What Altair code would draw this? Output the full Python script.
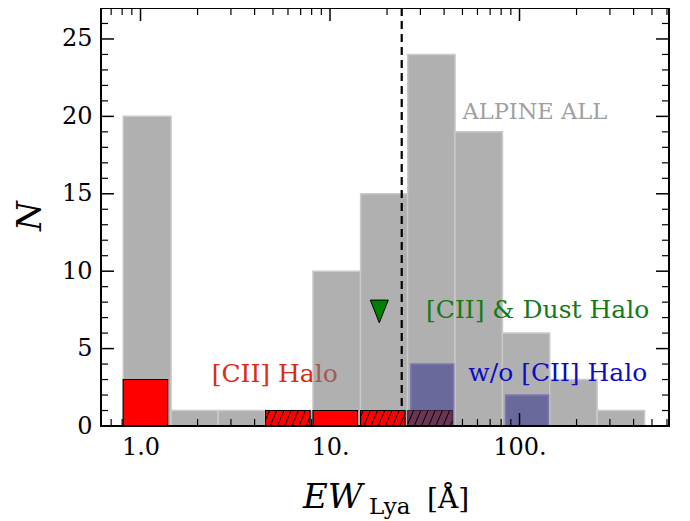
import altair as alt
import pandas as pd
import numpy as np

# ---------------- data ----------------
bin_edges = [0.81, 1.45, 2.57, 4.57, 8.13, 14.5, 25.7, 45.7, 81.3, 144.5, 257.0, 457.0]
all_counts = [20, 1, 1, 1, 10, 15, 24, 19, 6, 3, 1]          # ALPINE ALL
cii_solid_bins = [0, 4]
cii_solid_counts = [3, 1]                                    # [CII] Halo (solid)
cii_hatch_bins = [3, 5]
cii_hatch_counts = [1, 1]                                    # [CII] Halo (hatched)
dust_hatch_bins = [6]
dust_hatch_counts = [1]                                      # hatched, on blue
no_halo_bins = [6, 8]
no_halo_counts = [4, 2]                                      # w/o [CII] Halo
ew_cut = [23.9]
dust_limit_ew = [18.2]
dust_limit_n = [7.4]

x_major = [1, 10, 100]
x_minor = [0.7, 0.8, 0.9, 2, 3, 4, 5, 6, 7, 8, 9, 20, 30, 40, 50, 60, 70, 80, 90,
           200, 300, 400, 500, 600]
y_major = [0, 5, 10, 15, 20, 25]
y_minor = [1, 2, 3, 4, 6, 7, 8, 9, 11, 12, 13, 14, 16, 17, 18, 19, 21, 22, 23, 24, 26, 27]

annot_text = ["ALPINE ALL", "[CII] & Dust Halo", "w/o [CII] Halo"]
annot_x = [50.0, 32.1, 53.7]
annot_y = [19.85, 6.95, 2.89]
annot_color = ["#a0a0a0", "#137a13", "#0b0bc8"]
annot_size = [22.5, 25, 25]

W, H = 568, 418
FONT = "DejaVu Serif"
xs = alt.Scale(type="log", domain=[0.6187, 615], nice=False)
ys = alt.Scale(domain=[0, 27], nice=False, zero=True)

# ---------------- derived tables ----------------
grey = pd.DataFrame({"lo": bin_edges[:-1], "hi": bin_edges[1:], "n": all_counts, "z": 0})

def sub_bars(bins, counts, off_lo, off_hi):
    lo = [bin_edges[b] * 10 ** off_lo for b in bins]
    hi = [bin_edges[b] * 10 ** off_hi for b in bins]
    return pd.DataFrame({"lo": lo, "hi": hi, "n": counts, "z": 0})

red_solid = sub_bars(cii_solid_bins, cii_solid_counts, 0.0, 0.235)
red_hatch = sub_bars(cii_hatch_bins, cii_hatch_counts, 0.0, 0.235)
dark_hatch = sub_bars(dust_hatch_bins, dust_hatch_counts, 0.0, 0.235)
blue = sub_bars(no_halo_bins, no_halo_counts, 0.016, 0.243)

# hatch lines "/" clipped to each hatched bar
s, d = 0.038, 0.035
rows = []
for df in (red_hatch, dark_hatch):
    for _, r in df.iterrows():
        L, R, h = np.log10(r.lo), np.log10(r.hi), r.n
        k0 = int(np.floor((L - d) / s))
        k1 = int(np.ceil(R / s))
        for k in range(k0, k1 + 1):
            t = k * s
            if t + d <= L or t >= R:
                continue
            xa = max(t, L)
            xb = min(t + d, R)
            rows.append({"x": 10 ** xa, "x2": 10 ** xb,
                         "y": (xa - t) / d * h, "y2": (xb - t) / d * h})
hatch = pd.DataFrame(rows)

X = lambda f: alt.X(f"{f}:Q", scale=xs, axis=None)
Y = lambda f: alt.Y(f"{f}:Q", scale=ys, axis=None)

# ---------------- layers ----------------
cii_text = alt.Chart(pd.DataFrame({"x": [2.376], "y": [2.82], "t": ["[CII] Halo"]})).mark_text(
    font=FONT, fontSize=25, align="left", baseline="alphabetic", color="#dd2a10"
).encode(x=X("x"), y=Y("y"), text="t:N")

grey_bars = alt.Chart(grey).mark_rect(
    fill="#7b7b7b", fillOpacity=0.6, stroke="#cacaca", strokeWidth=1.5
).encode(
    x=alt.X("lo:Q", scale=xs, axis=alt.Axis(
        values=x_major, labelExpr="datum.value == 1 ? '1.0' : datum.value == 10 ? '10.' : '100.'",
        ticks=False, tickSize=0, domain=False, grid=False, title=None,
        labelFont=FONT, labelFontSize=24, labelPadding=9, labelColor="black", labelFlush=False)),
    x2="hi:Q",
    y=alt.Y("z:Q", scale=ys, axis=alt.Axis(
        values=y_major, ticks=False, tickSize=0, domain=False, grid=False, title=None,
        labelFont=FONT, labelFontSize=24, labelPadding=9, labelColor="black")),
    y2="n:Q",
)

blue_bars = alt.Chart(blue).mark_rect(fill="#69699b", stroke="#7c7cae", strokeWidth=1.5).encode(
    x=X("lo"), x2="hi:Q", y=Y("z"), y2="n:Q")

cut = alt.Chart(pd.DataFrame({"x": ew_cut})).mark_rule(
    color="black", strokeWidth=2.2, strokeDash=[8, 5]).encode(x=X("x"))

def xtick(vals, top, length, width):
    y0, y1 = (0, length) if top else (H, H - length)
    return alt.Chart(pd.DataFrame({"v": vals})).mark_rule(color="black", strokeWidth=width).encode(
        x=X("v"), y=alt.value(y0), y2=alt.value(y1))

def ytick(vals, right, length, width):
    x0, x1 = (W, W - length) if right else (0, length)
    return alt.Chart(pd.DataFrame({"v": vals})).mark_rule(color="black", strokeWidth=width).encode(
        y=Y("v"), x=alt.value(x0), x2=alt.value(x1))

ticks = [xtick(x_major, False, 13, 1.5), xtick(x_minor, False, 7, 1.2),
         xtick(x_major, True, 13, 1.5), xtick(x_minor, True, 7, 1.2),
         ytick(y_major, False, 13, 1.5), ytick(y_minor, False, 7, 1.2),
         ytick(y_major, True, 13, 1.5), ytick(y_minor, True, 7, 1.2)]

red_solid_bars = alt.Chart(red_solid).mark_rect(fill="#ff0000", stroke="black", strokeWidth=1.1).encode(
    x=X("lo"), x2="hi:Q", y=Y("z"), y2="n:Q")
red_hatch_bars = alt.Chart(red_hatch).mark_rect(fill="#ff0000", stroke="black", strokeWidth=1.1).encode(
    x=X("lo"), x2="hi:Q", y=Y("z"), y2="n:Q")
dark_hatch_bars = alt.Chart(dark_hatch).mark_rect(fill="#6b3556", stroke="#3a2030", strokeWidth=1.1).encode(
    x=X("lo"), x2="hi:Q", y=Y("z"), y2="n:Q")
hatch_lines = alt.Chart(hatch).mark_rule(color="black", strokeWidth=1).encode(
    x=X("x"), x2="x2:Q", y=Y("y"), y2="y2:Q")

tri = alt.Chart(pd.DataFrame({"x": dust_limit_ew, "y": dust_limit_n})).mark_point(
    shape="M-0.79,-1L0.79,-1L0,1Z", size=515, filled=True, fill="#008000",
    stroke="black", strokeWidth=1, opacity=1
).encode(x=X("x"), y=Y("y"))

annots = alt.Chart(pd.DataFrame({"x": annot_x, "y": annot_y, "t": annot_text,
                                 "c": annot_color, "s": annot_size})).mark_text(
    font=FONT, align="left", baseline="alphabetic"
).encode(x=X("x"), y=Y("y"), text="t:N",
         color=alt.Color("c:N", scale=None), size=alt.Size("s:Q", scale=None))

frame = alt.Chart(pd.DataFrame({"a": [0]})).mark_rect(
    filled=False, stroke="black", strokeWidth=2
).encode(x=alt.value(0), x2=alt.value(W), y=alt.value(0), y2=alt.value(H))

def label(txt, px, py, size, italic=False, angle=0, align="left", baseline="alphabetic"):
    kw = dict(font=FONT, fontSize=size, align=align, baseline=baseline, color="black", angle=angle)
    if italic:
        kw["fontStyle"] = "italic"
    return alt.Chart(pd.DataFrame({"t": [txt]})).mark_text(**kw).encode(
        x=alt.value(px), y=alt.value(py), text="t:N")

titles = [label("EW", 202, 499.5, 34, italic=True),
          label("Lya", 268, 506, 23),
          label("[Å]", 326, 500, 28),
          label("N", -70, 208, 34, italic=True, angle=270, align="center", baseline="middle")]

chart = alt.layer(
    cii_text, grey_bars, blue_bars, cut, *ticks,
    red_solid_bars, red_hatch_bars, dark_hatch_bars, hatch_lines,
    tri, annots, frame, *titles
).resolve_axis(x="independent", y="independent").properties(
    width=W, height=H,
    padding={"left": 93, "top": 0, "right": 13, "bottom": 95},
    autosize=alt.AutoSizeParams(type="none"),
).configure_view(stroke="transparent")

chart.save("out.html", embed_options={"renderer": "svg", "actions": False})
